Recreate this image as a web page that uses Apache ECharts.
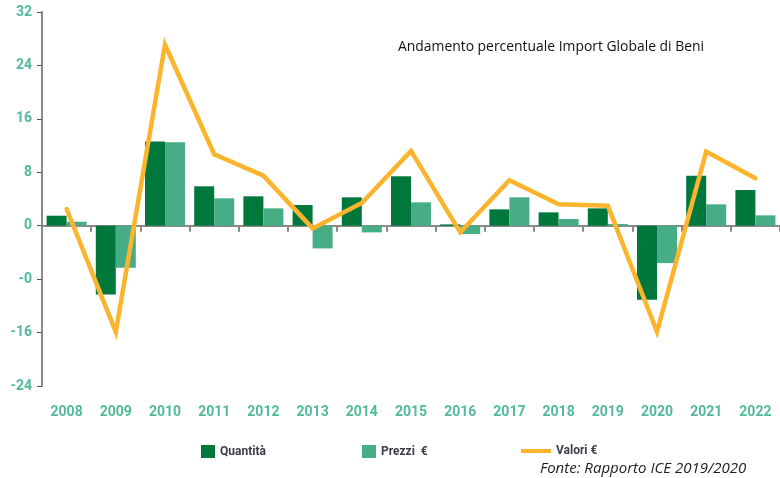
<!DOCTYPE html>
<html>
<head>
<meta charset="utf-8">
<script src="https://cdn.jsdelivr.net/npm/echarts@6/dist/echarts.min.js"></script>
<style>
  html, body { margin: 0; padding: 0; background: #fff; }
  #chart { width: 780px; height: 478px; }
</style>
</head>
<body>
<div id="chart"></div>
<script>
// dati
const anni = ['2008', '2009', '2010', '2011', '2012', '2013', '2014', '2015', '2016', '2017', '2018', '2019', '2020', '2021', '2022']
const quantita = [1.5, -10.3, 12.6, 5.9, 4.4, 3.1, 4.25, 7.4, 0.2, 2.45, 2.0, 2.6, -11.1, 7.5, 5.35]
const prezzi = [0.6, -6.3, 12.5, 4.1, 2.6, -3.4, -1.0, 3.5, -1.25, 4.25, 1.0, 0.25, -5.6, 3.2, 1.55]
const valori = [2.5, -15.9, 27.1, 10.7, 7.5, -0.4, 3.4, 11.2, -1.0, 6.8, 3.2, 3.0, -15.9, 11.1, 7.1]
const yTicks = [-24, -16, -8, 0, 8, 16, 24, 32]
const yTickLabels = ['-24', '-16', '-0', '0', '8', '16', '24', '32'] // come nell'originale

const verdeScuro = '#00783c'
const verdeChiaro = '#46ad86'
const arancio = '#fbb42c'
const testoAsse = '#52ba9a'
const grigio = '#8a8a8a'

const chart = echarts.init(document.getElementById('chart'))

const legendText = { color: '#3c3c4c', fontWeight: 'bold', fontSize: 12, fontFamily: 'Roboto' }

chart.setOption({
  animation: false,
  title: {
    text: 'Andamento percentuale Import Globale di Beni',
    left: 393,
    top: 35,
    textStyle: { fontFamily: 'Open Sans', fontWeight: 'normal', fontSize: 13.9, color: '#111' }
  },
  graphic: [{
    type: 'text',
    left: 540,
    top: 461,
    style: { text: 'Fonte: Rapporto ICE 2019/2020', font: 'italic 15px "Open Sans"', fill: '#222' }
  }],
  legend: [
    { data: ['Quantità'], left: 196, top: 440, itemWidth: 14, itemHeight: 13, itemGap: 5, textStyle: legendText, icon: 'rect' },
    { data: ['Prezzi  €'], left: 357, top: 440, itemWidth: 14, itemHeight: 13, textStyle: legendText, icon: 'rect' },
    { data: ['Valori €'], left: 516, top: 440, itemWidth: 30, itemHeight: 4, textStyle: legendText, icon: 'rect' }
  ],
  grid: { left: 42, right: -3, top: 12, bottom: 92, containLabel: false },
  xAxis: [{
    type: 'category',
    data: anni,
    axisLine: { onZero: true, lineStyle: { color: grigio, width: 2 } },
    axisTick: { show: true, length: 6, lineStyle: { color: grigio, width: 2 } },
    axisLabel: { show: false }
  }, {
    type: 'category',
    data: anni,
    position: 'bottom',
    axisLine: { show: false, onZero: false },
    axisTick: { show: false },
    axisLabel: { margin: 19, color: testoAsse, fontWeight: 'bold', fontSize: 14, fontFamily: 'Roboto' }
  }],
  yAxis: {
    type: 'value',
    min: -24,
    max: 32,
    interval: 8,
    splitLine: { show: false },
    axisLine: { show: true, lineStyle: { color: grigio, width: 2 } },
    axisTick: { show: true, length: 5, lineStyle: { color: '#555' } },
    axisLabel: {
      margin: 10,
      color: testoAsse,
      fontWeight: 'bold',
      fontSize: 14,
      fontFamily: 'Roboto',
      formatter: v => yTickLabels[yTicks.indexOf(v)]
    }
  },
  series: [{
    name: 'Quantità',
    type: 'bar',
    barWidth: 20,
    barGap: 0,
    itemStyle: { color: verdeScuro },
    data: quantita
  }, {
    name: 'Prezzi  €',
    type: 'bar',
    barWidth: 20,
    barGap: 0,
    itemStyle: { color: verdeChiaro },
    data: prezzi
  }, {
    name: 'Valori €',
    type: 'line',
    z: 5,
    showSymbol: false,
    symbol: 'none',
    lineStyle: { color: arancio, width: 4.5, cap: 'round', join: 'miter' },
    itemStyle: { color: arancio },
    data: valori
  }]
})
</script>
</body>
</html>
